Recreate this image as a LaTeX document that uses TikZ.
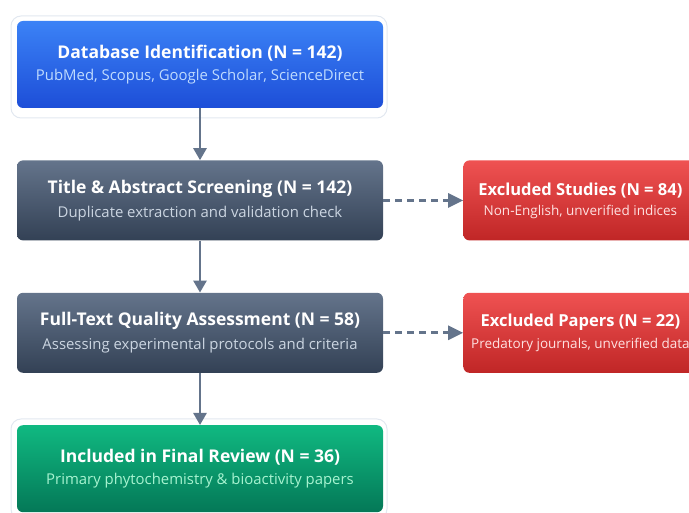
\documentclass[tikz,border=0pt]{standalone}
\usepackage{fontspec}
\setmainfont{Open Sans}
\usepackage{xcolor}
\usetikzlibrary{positioning,calc,arrows.meta}

\definecolor{blueTop}{HTML}{3B82F6}
\definecolor{blueBot}{HTML}{1D4ED8}
\definecolor{blueSub}{HTML}{BFDBFE}
\definecolor{slateTop}{HTML}{64748B}
\definecolor{slateBot}{HTML}{334155}
\definecolor{slateSub}{HTML}{CBD5E1}
\definecolor{redTop}{HTML}{EF5252}
\definecolor{redBot}{HTML}{C02626}
\definecolor{redSub}{HTML}{FEE2E2}
\definecolor{greenTop}{HTML}{10B981}
\definecolor{greenBot}{HTML}{047857}
\definecolor{greenSub}{HTML}{A7F3D0}
\definecolor{arrowgray}{HTML}{64748B}
\definecolor{ringgray}{HTML}{E2E8F0}

\tikzstyle{stage} = [rectangle, rounded corners=6pt, minimum width=366pt, minimum height=80pt, inner sep=0pt, align=center, text=white]
\tikzstyle{excl} = [stage, minimum width=234pt]
\tikzstyle{ring} = [rectangle, rounded corners=10pt, draw=ringgray, fill=white, line width=1pt]
\tikzstyle{line} = [draw, line width=2.6pt, arrowgray, -{Triangle[length=12pt,width=13pt]}]
\tikzstyle{dashline} = [line, dash pattern=on 7pt off 5pt, -{Triangle[length=15pt,width=14pt]}]

% title line over a smaller, tinted subtitle
\newcommand{\stagetext}[3]{{\fontsize{17.5}{21}\selectfont\bfseries #1}\\[7pt]{\fontsize{14.9}{17}\selectfont\color{#3}#2}}
% same, a bit smaller for the side boxes
\newcommand{\excltext}[3]{{\fontsize{16.5}{20}\selectfont\bfseries #1}\\[6pt]{\fontsize{13.5}{16}\selectfont\color{#3}#2}}

\begin{document}
\begin{tikzpicture}[x=1pt, y=-1pt, node distance=52pt and 80pt]

\path [use as bounding box] (0,0) rectangle (689,513);
\clip (0,0) rectangle (689,513);

\node [ring, minimum width=376pt, minimum height=102pt] (dbring) at (199,67) {};
\node [ring, minimum width=376pt, minimum height=100pt] (inring) at (199,469) {};

\node [stage, minimum height=87pt, top color=blueTop, bottom color=blueBot] (db) at (200,64.5)
  {\stagetext{Database Identification (N = 142)}{PubMed, Scopus, Google Scholar, ScienceDirect}{blueSub}};

\node [stage, below=of db, top color=slateTop, bottom color=slateBot] (screen)
  {\stagetext{Title \& Abstract Screening (N = 142)}{Duplicate extraction and validation check}{slateSub}};

\node [stage, below=of screen, top color=slateTop, bottom color=slateBot] (quality)
  {\stagetext{Full-Text Quality Assessment (N = 58)}{Assessing experimental protocols and criteria}{slateSub}};

\node [stage, minimum height=87pt, below=of quality, top color=greenTop, bottom color=greenBot] (final)
  {\stagetext{Included in Final Review (N = 36)}{Primary phytochemistry \& bioactivity papers}{greenSub}};

\node [excl, right=of screen, top color=redTop, bottom color=redBot] (exstudies)
  {\excltext{Excluded Studies (N = 84)}{Non-English, unverified indices}{redSub}};

\node [excl, right=of quality, top color=redTop, bottom color=redBot] (expapers)
  {\excltext{Excluded Papers (N = 22)}{Predatory journals, unverified data}{redSub}};

\path [line] (db) -- (screen);
\path [line] (screen) -- (quality);
\path [line] (quality) -- (final);

\path [dashline] (screen) -- (exstudies);
\path [dashline] (quality) -- (expapers);

\end{tikzpicture}
\end{document}
